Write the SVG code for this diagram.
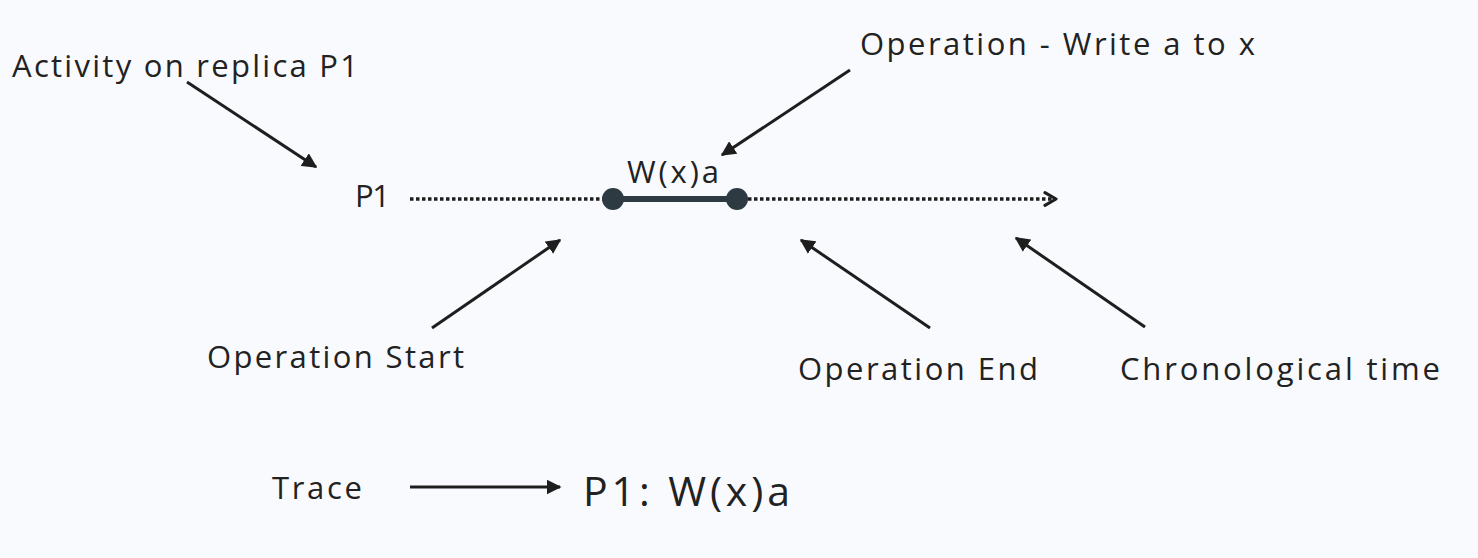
<svg xmlns="http://www.w3.org/2000/svg" width="1478" height="558" viewBox="0 0 1478 558">
<style>
text{font-family:"Open Sans","Noto Sans","Liberation Sans",sans-serif;fill:#222;}
.lbl{font-size:31px;}
.ptr{stroke:#1e1e1e;stroke-width:3;fill:none;}
.dot{stroke:#1e1e1e;stroke-width:3.5;stroke-dasharray:3.5 2.5;fill:none;}
</style>
<defs>
<marker id="ah" viewBox="0 0 10 10" refX="9" refY="5" markerWidth="5" markerHeight="5" orient="auto" markerUnits="strokeWidth">
<path d="M0,0 L10,5 L0,10 z" fill="#1e1e1e"/>
</marker>
<marker id="chev" viewBox="0 0 10 10" refX="8" refY="5" markerWidth="4.5" markerHeight="4.5" orient="auto" markerUnits="strokeWidth">
<path d="M1,1 L8,5 L1,9" fill="none" stroke="#1e1e1e" stroke-width="2" stroke-linecap="round" stroke-linejoin="round"/>
</marker>
</defs>
<rect width="1478" height="558" fill="#f9fafd"/>
<g id="connectors">
<line class="ptr" x1="187" y1="82" x2="316" y2="167" marker-end="url(#ah)"/>
<line class="ptr" x1="850" y1="70" x2="722" y2="155" marker-end="url(#ah)"/>
<line class="ptr" x1="432" y1="328" x2="560" y2="240" marker-end="url(#ah)"/>
<line class="ptr" x1="930" y1="328" x2="801" y2="240" marker-end="url(#ah)"/>
<line class="ptr" x1="1145" y1="327" x2="1016" y2="238" marker-end="url(#ah)"/>
<line class="dot" x1="410" y1="199" x2="604" y2="199"/>
<line class="dot" x1="748" y1="199" x2="1056" y2="199" marker-end="url(#chev)"/>
<line class="ptr" x1="410" y1="487" x2="560" y2="487" marker-end="url(#ah)"/>
</g>
<g id="activity"><text class="lbl" x="12" y="77" textLength="346" lengthAdjust="spacing">Activity on replica P1</text></g>
<g id="opwrite"><text class="lbl" x="860" y="55" textLength="395" lengthAdjust="spacing">Operation - Write a to x</text></g>
<g id="p1"><text class="lbl" x="355" y="207" textLength="35" lengthAdjust="spacing">P1</text></g>
<g id="operation">
<line x1="613" y1="199" x2="737" y2="199" stroke="#2d3a42" stroke-width="6"/>
<circle cx="613" cy="199" r="11" fill="#2d3a42"/>
<circle cx="737" cy="199" r="11" fill="#2d3a42"/>
<text class="lbl" x="627" y="183" textLength="92" lengthAdjust="spacing">W(x)a</text>
</g>
<g id="opstart"><text class="lbl" x="207" y="368" textLength="257" lengthAdjust="spacing">Operation Start</text></g>
<g id="opend"><text class="lbl" x="798" y="380" textLength="240" lengthAdjust="spacing">Operation End</text></g>
<g id="chrono"><text class="lbl" x="1120" y="380" textLength="320" lengthAdjust="spacing">Chronological time</text></g>
<g id="trace"><text class="lbl" x="272" y="499" textLength="90" lengthAdjust="spacing">Trace</text></g>
<g id="result"><text x="583" y="506" style="font-size:41px" textLength="207" lengthAdjust="spacing">P1: W(x)a</text></g>
</svg>
